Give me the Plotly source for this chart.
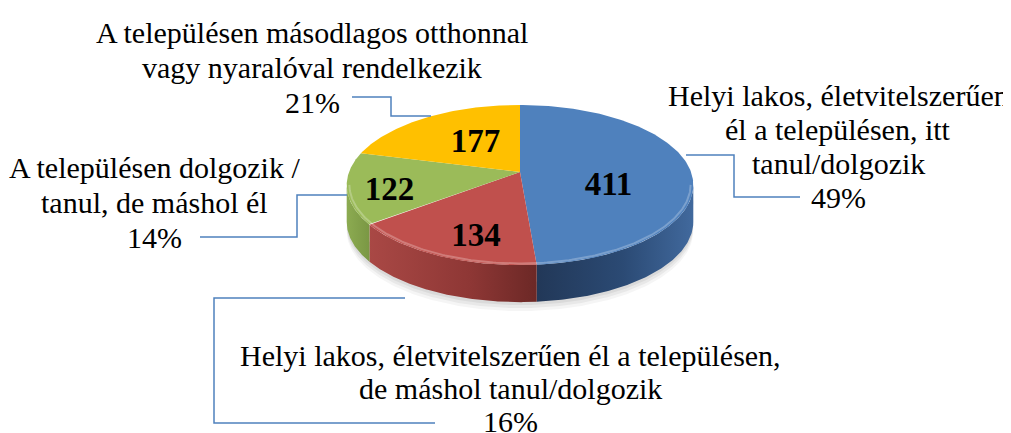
import numpy as np
import plotly.graph_objects as go

# ---------------- data ----------------
categories = [
    "Helyi lakos, életvitelszerűen<br>él a településen, itt<br>tanul/dolgozik",
    "Helyi lakos, életvitelszerűen él a településen,<br>de máshol tanul/dolgozik",
    "A településen dolgozik /<br>tanul, de máshol él",
    "A településen másodlagos otthonnal<br>vagy nyaralóval rendelkezik",
]
values = [411, 134, 122, 177]
percent_labels = ["49%", "16%", "14%", "21%"]

top_colors = ["#4F81BD", "#C0504D", "#9BBB59", "#FFC000"]
side_scales = [
    [[0, "#223858"], [0.55, "#2b4a74"], [1, "#41699d"]],
    [[0, "#a94845"], [0.6, "#8e3735"], [1, "#6c2826"]],
    [[0, "#8cab51"], [1, "#7a9744"]],
    [[0, "#d9a400"], [1, "#c99800"]],
]

SERIF = "'Liberation Serif', 'Times New Roman', Times, serif"

# page body has an 8px margin: shift the coordinate frame so positions match the page
OFF = 8

# ---------------- geometry (projection of a tilted disc) ----------------
CX, CY, R, B, C, D = 520, 172, 171, 78, 0.1625, 37


def proj(r, th_deg, dz=0.0):
    th = np.radians(th_deg)
    x = r * np.sin(th)
    z = r * np.cos(th)
    s = 1.0 / (1.0 + C * z)
    return CX + R * x * s, CY - B * z * s + dz


total = float(sum(values))
bounds = np.concatenate([[0], np.cumsum(values)]) / total * 360.0
vis_lo = np.degrees(np.arccos(-C))
vis_hi = 360 - vis_lo

fig = go.Figure()

# soft shadow under the pie
for off, alpha in [(9, 0.04), (6, 0.05), (3, 0.06)]:
    th = np.linspace(vis_lo - 10, vis_hi + 10, 200)
    xs, ys = proj(1.0, th, D + off)
    xs2, ys2 = proj(1.0, th[::-1], D - 20)
    fig.add_trace(go.Scatter(x=np.concatenate([xs, xs2]), y=np.concatenate([ys, ys2]),
                             fill="toself", mode="lines", line=dict(width=0),
                             fillcolor=f"rgba(0,0,0,{alpha})", hoverinfo="skip"))

# side walls
for i in range(len(values)):
    a0, a1 = max(bounds[i], vis_lo), min(bounds[i + 1], vis_hi)
    if a1 <= a0:
        continue
    th = np.linspace(a0, a1, 120)
    xt, yt = proj(1.0, th)
    xb, yb = proj(1.0, th[::-1], D)
    fig.add_trace(go.Scatter(x=np.concatenate([xt, xb]), y=np.concatenate([yt, yb]),
                             fill="toself", mode="lines", line=dict(width=0),
                             fillgradient=dict(type="horizontal", colorscale=side_scales[i]),
                             hoverinfo="skip"))

# top faces
for i in range(len(values)):
    th = np.linspace(bounds[i], bounds[i + 1], 160)
    xa, ya = proj(1.0, th)
    xs = np.concatenate([[CX], xa, [CX]])
    ys = np.concatenate([[CY], ya, [CY]])
    fig.add_trace(go.Scatter(x=xs, y=ys, fill="toself", mode="lines",
                             line=dict(width=0), fillcolor=top_colors[i], hoverinfo="skip"))

# bevel highlight on front rim
th = np.linspace(vis_lo, vis_hi, 200)
xr, yr = proj(0.985, th)
fig.add_trace(go.Scatter(x=xr, y=yr, mode="lines", line=dict(color="rgba(255,255,255,0.25)", width=2),
                         hoverinfo="skip"))

# value labels on slices
label_r = [0.52, 0.58, 0.76, 0.45]
label_dy = [16, 20, 8, -2]
mids = (bounds[:-1] + bounds[1:]) / 2
lx, ly = [], []
for i in range(len(values)):
    x, y = proj(label_r[i], mids[i], label_dy[i])
    lx.append(x)
    ly.append(y)
fig.add_trace(go.Scatter(x=lx, y=ly, mode="text", text=[str(v) for v in values],
                         textposition="middle center",
                         textfont=dict(family=SERIF, size=33, color="black", weight="bold"),
                         hoverinfo="skip"))

# outer category labels (one annotation per line) with leader lines
ann_x = [838, 510, 154, 312]
ann_y0 = [95, 355, 167, 32]
ann_step = [34, 33, 35, 35]
for i in range(len(values)):
    lines = categories[i].split("<br>") + [percent_labels[i]]
    for k, line in enumerate(lines):
        fig.add_annotation(x=ann_x[i], y=ann_y0[i] + k * ann_step[i], xref="x", yref="y",
                           text=line, showarrow=False, align="center",
                           xanchor="center", yanchor="middle",
                           font=dict(family=SERIF, size=30, color="black"))

leader_paths = [
    "M686,155 H734 V197 H800",
    "M405,298 H214 V423 H435",
    "M200,237 H297 V195 H347",
    "M352,97 H391 V116 H431",
]
for p in leader_paths:
    fig.add_shape(type="path", path=p, xref="x", yref="y",
                  line=dict(color="#4F81BD", width=1.5), layer="above")

fig.update_layout(
    width=1011, height=433, margin=dict(l=0, r=0, t=0, b=0),
    paper_bgcolor="white", plot_bgcolor="white", showlegend=False,
    font=dict(family=SERIF),
    xaxis=dict(range=[OFF, 1011 + OFF], visible=False, fixedrange=True),
    yaxis=dict(range=[433 + OFF, OFF], visible=False, fixedrange=True),
)

fig.write_html("out.html")
